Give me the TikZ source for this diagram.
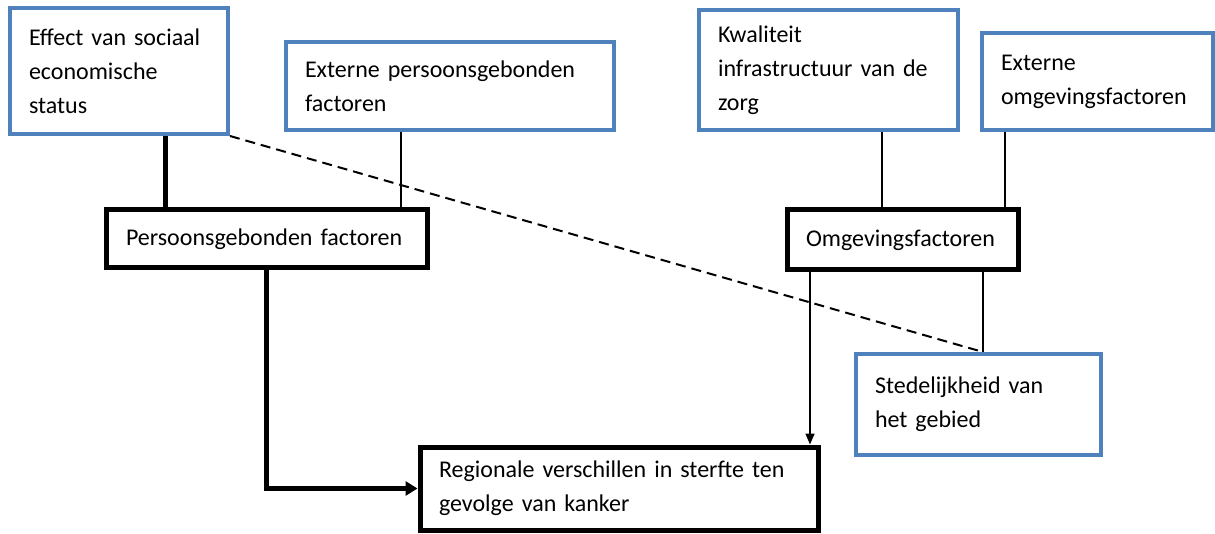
\documentclass[tikz,border=0pt]{standalone}
\usepackage{fontspec}
\setmainfont{Carlito}
\usetikzlibrary{arrows.meta}
\definecolor{boxblue}{RGB}{79,129,189}

\begin{document}
\begin{tikzpicture}[x=1pt,y=-1pt,
  every node/.style={font=\fontsize{24}{34}\selectfont, align=left, inner xsep=19pt},
  bluebox/.style={draw=boxblue, line width=4pt, fill=white},
  blackbox/.style={draw=black, line width=5pt, fill=white},
  thinline/.style={line width=1.5pt},
  thickline/.style={line width=5pt},
  dashline/.style={line width=2pt, dash pattern=on 10pt off 6pt}]
\useasboundingbox (0,0) rectangle (1215,534);
\node[bluebox, minimum width=218pt, minimum height=126pt, text width=180pt] (eff) at (119,71) {Effect van sociaal\\economische\\status};
\node[bluebox, minimum width=328pt, minimum height=88pt, text width=290pt] (extp) at (450,86) {Externe persoonsgebonden\\factoren};
\node[bluebox, minimum width=259pt, minimum height=120pt, text width=221pt] (kwal) at (828.5,70) {Kwaliteit\\infrastructuur van de\\zorg};
\node[bluebox, minimum width=231pt, minimum height=97pt, text width=193pt] (exto) at (1097.5,81.5) {Externe\\omgevingsfactoren};
\node[blackbox, minimum width=321pt, minimum height=58pt, text width=281pt, inner xsep=20pt] (pers) at (266.5,239) {Persoonsgebonden factoren};
\node[blackbox, minimum width=231pt, minimum height=60pt, text width=193pt] (omg) at (902.5,240) {Omgevingsfactoren};
\node[bluebox, minimum width=245pt, minimum height=101pt, text width=207pt] (sted) at (978.5,404.5) {Stedelijkheid van\\het gebied};
\node[blackbox, minimum width=398pt, minimum height=83pt, text width=360pt] (reg) at (619,488.5) {Regionale verschillen in sterfte ten\\gevolge van kanker};
% lijnen naar persoonsgebonden factoren
\draw[thickline] ([xshift=46pt]eff.south) -- ([xshift=46pt]eff.south |- pers.north);
\draw[thinline] ([xshift=-49pt]extp.south) -- ([xshift=-49pt]extp.south |- pers.north);
% lijnen naar omgevingsfactoren
\draw[thinline] ([xshift=53.5pt]kwal.south) -- ([xshift=53.5pt]kwal.south |- omg.north);
\draw[thinline] ([xshift=-92.5pt]exto.south) -- ([xshift=-92.5pt]exto.south |- omg.north);
\draw[thinline] ([xshift=80.5pt]omg.south) -- ([xshift=80.5pt]omg.south |- sted.north);
\draw[dashline] (eff.south east) -- ([xshift=4.5pt]sted.north);
% pijlen naar regionale verschillen
\draw[thinline, -{Triangle[length=11pt,width=9pt]}] ([xshift=-92.5pt]omg.south) -- ([xshift=-92.5pt]omg.south |- reg.north);
\draw[thickline, -{Triangle[length=12pt,width=14pt]}] (pers.south) |- (reg.west);
\end{tikzpicture}
\end{document}
